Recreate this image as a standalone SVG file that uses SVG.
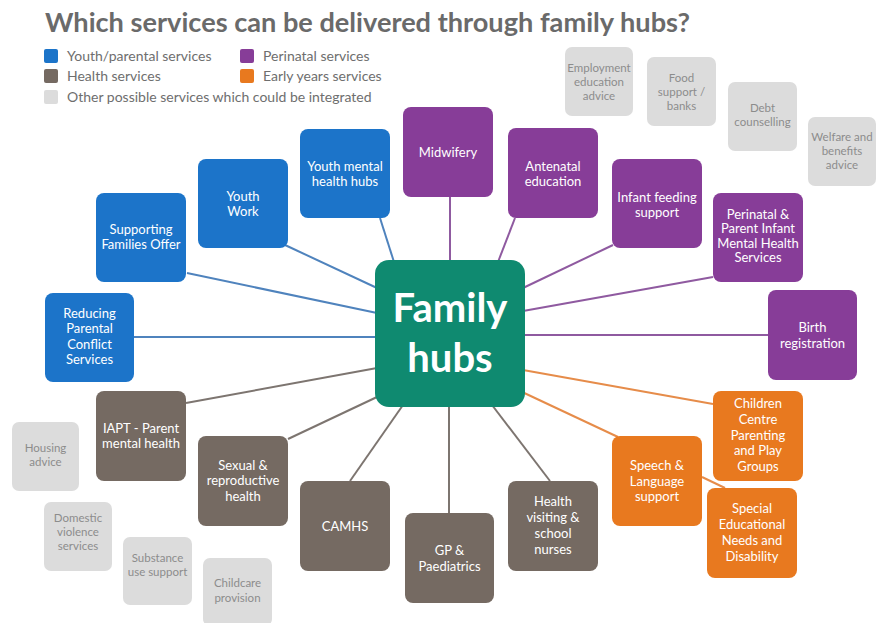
<svg xmlns="http://www.w3.org/2000/svg" width="876" height="623" viewBox="0 0 876 623">
<style>
.t{font-family:Lato,"Open Sans","Liberation Sans",sans-serif;}
.title{font-size:27px;font-weight:700;fill:#6a6a6a;}
.leg{font-size:14px;fill:#6e6e6e;}
.lbl{font-size:13px;fill:#ffffff;text-anchor:middle;}
.glbl{font-size:11.5px;fill:#8c8c8c;text-anchor:middle;}
.blue{fill:#1c74c9;}
.purple{fill:#873d98;}
.brown{fill:#756a62;}
.orange{fill:#e8791f;}
.grey{fill:#dcdcdc;}
.hub{fill:#0f8a70;}
.hubt{font-size:40px;font-weight:700;fill:#ffffff;text-anchor:middle;}
.cb{stroke:#4f83bd;stroke-width:2;fill:none;}
.cp{stroke:#8f5aa0;stroke-width:2;fill:none;}
.cr{stroke:#7d7570;stroke-width:2;fill:none;}
.co{stroke:#e68c4a;stroke-width:2;fill:none;}
</style>
<rect width="876" height="623" fill="#ffffff"/>
<text class="t title" x="45" y="32" textLength="645" lengthAdjust="spacingAndGlyphs">Which services can be delivered through family hubs?</text>
<g id="legend">
<rect class="blue" x="44" y="49" width="14" height="14" rx="2"/>
<text class="t leg" x="67" y="61">Youth/parental services</text>
<rect class="purple" x="240" y="49" width="14" height="14" rx="2"/>
<text class="t leg" x="263" y="61">Perinatal services</text>
<rect class="brown" x="44" y="69" width="14" height="14" rx="2"/>
<text class="t leg" x="67" y="81">Health services</text>
<rect class="orange" x="240" y="69" width="14" height="14" rx="2"/>
<text class="t leg" x="263" y="81">Early years services</text>
<rect class="grey" x="44" y="90" width="14" height="14" rx="2"/>
<text class="t leg" x="67" y="102">Other possible services which could be integrated</text>
</g>
<g id="connectors">
<line class="cb" x1="380" y1="218" x2="394" y2="262"/>
<line class="cb" x1="285" y1="245" x2="377" y2="288"/>
<line class="cb" x1="187" y1="273" x2="377" y2="313"/>
<line class="cb" x1="134" y1="337" x2="377" y2="337"/>
<line class="cp" x1="450" y1="197" x2="450" y2="262"/>
<line class="cp" x1="515" y1="218" x2="498" y2="262"/>
<line class="cp" x1="613" y1="245" x2="523" y2="288"/>
<line class="cp" x1="713" y1="277" x2="523" y2="311"/>
<line class="cp" x1="768" y1="335" x2="523" y2="335"/>
<line class="co" x1="523" y1="370" x2="713" y2="404"/>
<line class="co" x1="520" y1="391" x2="618" y2="437"/>
<line class="co" x1="702" y1="477" x2="725" y2="488"/>
<line class="cr" x1="186" y1="403" x2="377" y2="368"/>
<line class="cr" x1="288" y1="439" x2="377" y2="397"/>
<line class="cr" x1="350" y1="481" x2="403" y2="405"/>
<line class="cr" x1="449" y1="513" x2="449" y2="405"/>
<line class="cr" x1="550" y1="481" x2="492" y2="405"/>
</g>
<g id="hub">
<rect class="hub" x="375" y="260" width="150" height="147" rx="14"/>
<text class="t hubt" x="450" y="322">Family</text>
<text class="t hubt" x="450" y="372">hubs</text>
</g>
<g id="youth-mental-health-hubs">
<rect class="blue" x="300" y="129" width="90" height="89" rx="8"/>
<text class="t lbl" x="345" y="170.5">Youth mental</text>
<text class="t lbl" x="345" y="185.5">health hubs</text>
</g>
<g id="youth-work">
<rect class="blue" x="198" y="159" width="90" height="89" rx="8"/>
<text class="t lbl" x="243" y="200.5">Youth</text>
<text class="t lbl" x="243" y="215.5">Work</text>
</g>
<g id="supporting-families">
<rect class="blue" x="96" y="193" width="90" height="89" rx="8"/>
<text class="t lbl" x="141" y="233.5">Supporting</text>
<text class="t lbl" x="141" y="248.5">Families Offer</text>
</g>
<g id="reducing-parental-conflict">
<rect class="blue" x="45" y="293" width="89" height="89" rx="8"/>
<text class="t lbl" x="89.5" y="317.5">Reducing</text>
<text class="t lbl" x="89.5" y="333">Parental</text>
<text class="t lbl" x="89.5" y="348.5">Conflict</text>
<text class="t lbl" x="89.5" y="364">Services</text>
</g>
<g id="midwifery">
<rect class="purple" x="403" y="107" width="90" height="90" rx="8"/>
<text class="t lbl" x="448" y="156.5">Midwifery</text>
</g>
<g id="antenatal-education">
<rect class="purple" x="508" y="128" width="90" height="90" rx="8"/>
<text class="t lbl" x="553" y="170.5">Antenatal</text>
<text class="t lbl" x="553" y="185.5">education</text>
</g>
<g id="infant-feeding">
<rect class="purple" x="612" y="159" width="90" height="89" rx="8"/>
<text class="t lbl" x="657" y="201.5">Infant feeding</text>
<text class="t lbl" x="657" y="216.5">support</text>
</g>
<g id="perinatal-mental-health">
<rect class="purple" x="713" y="193" width="90" height="89" rx="8"/>
<text class="t lbl" x="758" y="218.5">Perinatal &amp;</text>
<text class="t lbl" x="758" y="233">Parent Infant</text>
<text class="t lbl" x="758" y="247.5">Mental Health</text>
<text class="t lbl" x="758" y="262">Services</text>
</g>
<g id="birth-registration">
<rect class="purple" x="768" y="290" width="89" height="90" rx="8"/>
<text class="t lbl" x="812.5" y="331.5">Birth</text>
<text class="t lbl" x="812.5" y="347.5">registration</text>
</g>
<g id="employment">
<rect class="grey" x="565" y="47" width="68" height="69" rx="7"/>
<text class="t glbl" x="599" y="72">Employment</text>
<text class="t glbl" x="599" y="86">education</text>
<text class="t glbl" x="599" y="100">advice</text>
</g>
<g id="food-support">
<rect class="grey" x="647" y="57" width="69" height="69" rx="7"/>
<text class="t glbl" x="681.5" y="82">Food</text>
<text class="t glbl" x="681.5" y="96">support /</text>
<text class="t glbl" x="681.5" y="110">banks</text>
</g>
<g id="debt-counselling">
<rect class="grey" x="728" y="82" width="69" height="69" rx="7"/>
<text class="t glbl" x="762.5" y="112">Debt</text>
<text class="t glbl" x="762.5" y="126">counselling</text>
</g>
<g id="welfare">
<rect class="grey" x="808" y="117" width="68" height="69" rx="7"/>
<text class="t glbl" x="842" y="141">Welfare and</text>
<text class="t glbl" x="842" y="155">benefits</text>
<text class="t glbl" x="842" y="169">advice</text>
</g>
<g id="housing">
<rect class="grey" x="12" y="422" width="67" height="69" rx="7"/>
<text class="t glbl" x="45.5" y="452">Housing</text>
<text class="t glbl" x="45.5" y="466">advice</text>
</g>
<g id="domestic-violence">
<rect class="grey" x="44" y="502" width="68" height="69" rx="7"/>
<text class="t glbl" x="78" y="522">Domestic</text>
<text class="t glbl" x="78" y="536">violence</text>
<text class="t glbl" x="78" y="550">services</text>
</g>
<g id="substance-use">
<rect class="grey" x="123" y="537" width="69" height="68" rx="7"/>
<text class="t glbl" x="157.5" y="562">Substance</text>
<text class="t glbl" x="157.5" y="576">use support</text>
</g>
<g id="childcare">
<rect class="grey" x="203" y="558" width="69" height="68" rx="7"/>
<text class="t glbl" x="237.5" y="587">Childcare</text>
<text class="t glbl" x="237.5" y="602">provision</text>
</g>
<g id="iapt">
<rect class="brown" x="96" y="391" width="90" height="90" rx="8"/>
<text class="t lbl" x="141" y="432.5">IAPT - Parent</text>
<text class="t lbl" x="141" y="447.5">mental health</text>
</g>
<g id="sexual-health">
<rect class="brown" x="198" y="436" width="90" height="90" rx="8"/>
<text class="t lbl" x="243" y="469.5">Sexual &amp;</text>
<text class="t lbl" x="243" y="485">reproductive</text>
<text class="t lbl" x="243" y="500.5">health</text>
</g>
<g id="camhs">
<rect class="brown" x="300" y="481" width="90" height="90" rx="8"/>
<text class="t lbl" x="345" y="530.5">CAMHS</text>
</g>
<g id="gp-paediatrics">
<rect class="brown" x="405" y="513" width="89" height="90" rx="8"/>
<text class="t lbl" x="449.5" y="554.5">GP &amp;</text>
<text class="t lbl" x="449.5" y="570.5">Paediatrics</text>
</g>
<g id="health-visiting">
<rect class="brown" x="508" y="481" width="90" height="90" rx="8"/>
<text class="t lbl" x="553" y="505.5">Health</text>
<text class="t lbl" x="553" y="521.5">visiting &amp;</text>
<text class="t lbl" x="553" y="537.5">school</text>
<text class="t lbl" x="553" y="553.5">nurses</text>
</g>
<g id="children-centre">
<rect class="orange" x="713" y="391" width="90" height="90" rx="8"/>
<text class="t lbl" x="758" y="407.5">Children</text>
<text class="t lbl" x="758" y="423.5">Centre</text>
<text class="t lbl" x="758" y="439.5">Parenting</text>
<text class="t lbl" x="758" y="455">and Play</text>
<text class="t lbl" x="758" y="470.5">Groups</text>
</g>
<g id="speech-language">
<rect class="orange" x="612" y="436" width="90" height="90" rx="8"/>
<text class="t lbl" x="657" y="469.5">Speech &amp;</text>
<text class="t lbl" x="657" y="485.5">Language</text>
<text class="t lbl" x="657" y="500.5">support</text>
</g>
<g id="send">
<rect class="orange" x="707" y="488" width="90" height="90" rx="8"/>
<text class="t lbl" x="752" y="512.5">Special</text>
<text class="t lbl" x="752" y="528.5">Educational</text>
<text class="t lbl" x="752" y="544.5">Needs and</text>
<text class="t lbl" x="752" y="560.5">Disability</text>
</g>
</svg>
